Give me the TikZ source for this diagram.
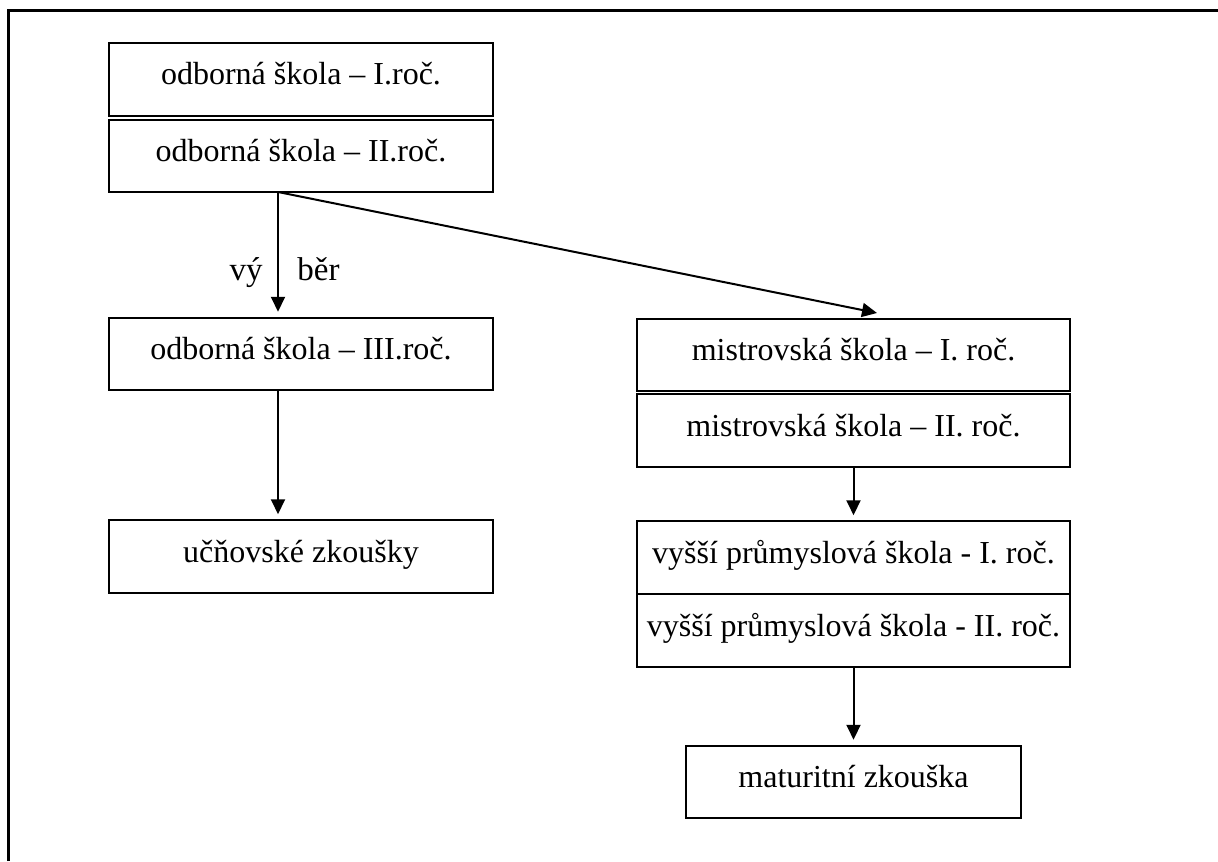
\documentclass[tikz,border=0pt]{standalone}
\usepackage{fontspec}
\setmainfont{Liberation Serif}
\usetikzlibrary{arrows.meta}

\begin{document}
\begin{tikzpicture}[x=0.5pt,y=-0.5pt,
    box/.style={draw, line width=1pt, minimum height=36.25pt, text height=11pt, text depth=5.5pt},
    arr/.style={line width=1pt, -{Triangle[length=7.5pt,width=7pt]}, shorten >=2.5pt}]

        \useasboundingbox (0,0) rectangle (1218,861);
        \draw[line width=1.5pt] (8.5,861) |- (1218,11);

        \begin{scope}[every node/.style={box, font=\fontsize{16}{19}\selectfont}]
          \node[minimum width=192pt] (A) at (301,79.5)  {odborná škola – I.roč.};
          \node[minimum width=192pt] (B) at (301,156)   {odborná škola – II.roč.};
          \node[minimum width=192pt] (C) at (301,354)   {odborná škola – III.roč.};
          \node[minimum width=192pt] (D) at (301,556.5) {učňovské zkoušky};
          \node[minimum width=216.5pt] (E) at (853.5,355)   {mistrovská škola – I. roč.};
          \node[minimum width=216.5pt] (F) at (853.5,430.5) {mistrovská škola – II. roč.};
          \node[minimum width=216.5pt] (G) at (853.5,557.5) {vyšší průmyslová škola - I. roč.};
          \node[minimum width=216.5pt] (H) at (853.5,630.5) {vyšší průmyslová škola - II. roč.};
          \node[minimum width=167.5pt] (I) at (853.5,782)   {maturitní zkouška};
        \end{scope}

        \coordinate (fork) at (278,192);
        \coordinate (etop) at (877,313);

        \begin{scope}[every node/.style={inner sep=0pt, font=\fontsize{16.5}{20}\selectfont}]
          \node[anchor=base east] (vy)  at (263,280) {vý};
          \node[anchor=base west] (ber) at (297,280) {běr};
        \end{scope}

        \draw[arr] (fork) -- (fork |- C.north);
        \draw[arr, shorten >=0pt] (fork) -- (etop);
        \draw[arr] (C.south -| fork) -- (D.north -| fork);
        \draw[arr] (F.south) -- (G.north);
        \draw[arr] (H.south) -- (I.north);

      \end{tikzpicture}
\end{document}
